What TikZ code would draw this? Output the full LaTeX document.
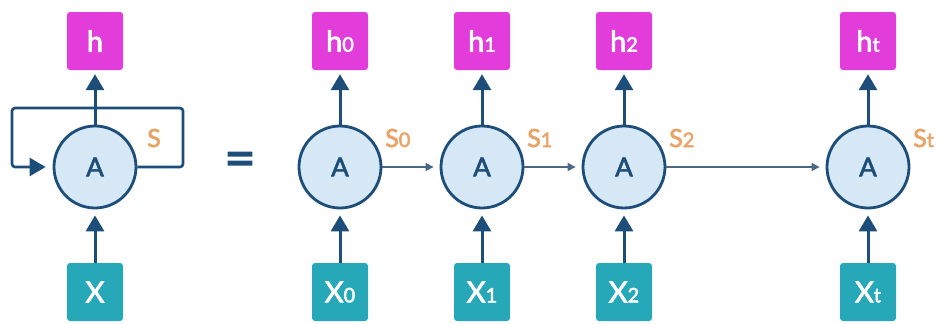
\documentclass[tikz,border=0pt]{standalone}
\usepackage{fontspec}
\setmainfont{Lato}[RawFeature={embolden=2.5}]
\usepackage{xcolor}
\definecolor{mainc}{HTML}{1D4E7A}
\definecolor{cellc}{HTML}{D6E7F5}
\definecolor{outc}{HTML}{E23CDB}
\definecolor{inc}{HTML}{27A8B8}
\definecolor{statec}{HTML}{E9A366}
\definecolor{flowc}{HTML}{4A6886}
\usetikzlibrary{arrows.meta,positioning,calc}
\tikzset{
  cell/.style={circle,draw=mainc,line width=2.8pt,fill=cellc,minimum size=82pt,inner sep=0pt,text=mainc,font=\fontsize{26}{28}\selectfont},
  vbox/.style={rectangle,rounded corners=3pt,minimum width=56pt,minimum height=58pt,inner sep=0pt,text=white,font=\fontsize{29}{30}\selectfont},
  hbox/.style={vbox,fill=outc},
  xbox/.style={vbox,fill=inc},
  slab/.style={text=statec,anchor=base west,inner sep=0pt,font=\fontsize{25}{26}\selectfont},
  up/.style={-{Triangle[length=16pt,width=18pt]},line width=3pt,draw=mainc},
  flow/.style={-{Triangle[length=8pt,width=8pt]},line width=1.6pt,draw=flowc,shorten >=6pt},
  loopln/.style={-{Triangle[length=16pt,width=18pt]},line width=2.6pt,draw=mainc,rounded corners=3pt,shorten >=7pt},
}
\newcommand{\lowidx}[1]{{\fontsize{20}{20}\selectfont #1}}

\begin{document}
\begin{tikzpicture}[x=1pt,y=-1pt]
  \useasboundingbox (0,0) rectangle (943,324);
  % folded cell
  \node[cell] (A) at (95,167) {A};
  \node[hbox] (h) at (95,41) {h};
  \node[xbox] (x) at (95,292) {X};
  \coordinate (lr) at (183,108);
  \coordinate (ll) at (12,108);
  \draw[loopln] (A.east) -| (lr) -- (ll) |- (A.west);
  \draw[up,shorten >=4pt] (A) -- (h);
  \draw[up,shorten >=6pt] (x) -- (A);
  \node[slab] (s) at (147,147) {S};
  \node[text=mainc,font=\fontsize{54}{54}\selectfont] (eq) at (240,164.5) {=};
  % unrolled chain
  \foreach \i/\xc in {0/340,1/482,2/624,t/868} {
    \node[cell] (c\i) at (\xc,167) {A};
    \node[hbox] (h\i) at (\xc,41) {h\lowidx{\i}};
    \node[xbox] (x\i) at (\xc,292) {X\lowidx{\i}};
    \draw[up,shorten >=4pt] (c\i) -- (h\i);
    \draw[up,shorten >=6pt] (x\i) -- (c\i);
    \node[slab] (s\i) at (\xc+45,147) {S\lowidx{\i}};
  }
  \draw[flow] (c0) -- (c1);
  \draw[flow] (c1) -- (c2);
  \draw[flow] (c2) -- (ct);
\end{tikzpicture}
\end{document}
